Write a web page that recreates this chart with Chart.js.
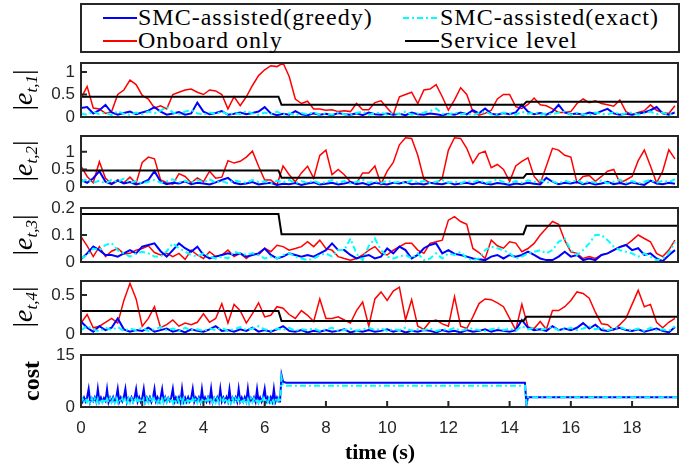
<!DOCTYPE html>
<html lang="en">
<head>
<meta charset="UTF-8">
<title>Tracking error and cost</title>
<style>
  body { margin: 0; background: #fff; }
  #wrap { position: relative; width: 696px; height: 470px; overflow: hidden; font-family: 'Liberation Serif', 'Times New Roman', serif; color: #000; }
  canvas { position: absolute; left: 0; }
  .legend-box { position: absolute; left: 80px; top: 3px; width: 600px; height: 50px; box-sizing: border-box; border: 2px solid #262626; }
  .leg-text { position: absolute; font-size: 24px; line-height: 24px; letter-spacing: 1px; white-space: nowrap; }
  .leg-line { position: absolute; }
  .ylab { position: absolute; transform: translate(-50%, -50%) rotate(-90deg); white-space: nowrap; font-size: 28px; line-height: 28px; }
  .ylab i { font-style: italic; }
  .ylab sub { font-size: 17px; font-style: italic; vertical-align: -5px; }
  .cost { font-weight: bold; font-size: 24px; }
  .xlab { position: absolute; left: 380px; top: 452px; transform: translate(-50%, -50%); font-weight: bold; font-size: 22px; white-space: nowrap; }
</style>
</head>
<body>
<div id="wrap">
  <div class="legend-box"></div>
  <svg class="leg-line" style="left:103px;top:16px" width="34" height="4"><line x1="0" y1="2" x2="34" y2="2" stroke="#0000ff" stroke-width="2"/></svg>
  <div class="leg-text" style="left:138px;top:5px">SMC-assisted(greedy)</div>
  <svg class="leg-line" style="left:403px;top:16px" width="34" height="4"><line x1="0" y1="2" x2="34" y2="2" stroke="#00ffff" stroke-width="2" stroke-dasharray="6,3,2,3"/></svg>
  <div class="leg-text" style="left:440px;top:5px">SMC-assisted(exact)</div>
  <svg class="leg-line" style="left:103px;top:39px" width="34" height="4"><line x1="0" y1="2" x2="34" y2="2" stroke="#ff0000" stroke-width="2"/></svg>
  <div class="leg-text" style="left:138px;top:28px">Onboard only</div>
  <svg class="leg-line" style="left:405px;top:39px" width="34" height="4"><line x1="0" y1="2" x2="34" y2="2" stroke="#000000" stroke-width="2"/></svg>
  <div class="leg-text" style="left:440px;top:28px">Service level</div>

  <canvas id="p1"></canvas>
  <canvas id="p2"></canvas>
  <canvas id="p3"></canvas>
  <canvas id="p4"></canvas>
  <canvas id="p5"></canvas>

  <div class="ylab" style="left:27px;top:90px">|<i>e</i><sub>t,1</sub>|</div>
  <div class="ylab" style="left:27px;top:161px">|<i>e</i><sub>t,2</sub>|</div>
  <div class="ylab" style="left:27px;top:235px">|<i>e</i><sub>t,3</sub>|</div>
  <div class="ylab" style="left:27px;top:307px">|<i>e</i><sub>t,4</sub>|</div>
  <div class="ylab cost" style="left:31px;top:381px">cost</div>
  <div class="xlab">time (s)</div>
</div>
<script src="https://cdn.jsdelivr.net/npm/chart.js"></script>
<script>
// sample grid of the error traces (0.2 s)
const sampleTimes = Array.from({ length: 98 }, (_, i) => +(i * 0.2).toFixed(1));
const xTicks = [0, 2, 4, 6, 8, 10, 12, 14, 16, 18];

// service level steps
const serviceTimes = [0, 6.45, 6.55, 14.45, 14.55, 19.5];
const service1 = [0.45, 0.45, 0.27, 0.27, 0.34, 0.34];
const service2 = [0.47, 0.47, 0.26, 0.26, 0.37, 0.37];
const service3 = [0.178, 0.178, 0.103, 0.103, 0.134, 0.134];
const service4 = [0.295, 0.295, 0.167, 0.167, 0.222, 0.222];

// |e_t,1|
const onboard1 = [
  0.42, 0.68, 0.2, 0.18, 0.08, 0.12, 0.5, 0.6, 0.82, 0.72,
  0.48, 0.4, 0.2, 0.25, 0.18, 0.5, 0.55, 0.6, 0.62, 0.55,
  0.5, 0.6, 0.58, 0.5, 0.18, 0.45, 0.25, 0.45, 0.7, 0.92,
  1.05, 1.14, 1.12, 1.2, 0.9, 0.4, 0.3, 0.35, 0.18, 0.18,
  0.15, 0.16, 0.12, 0.14, 0.12, 0.3, 0.16, 0.16, 0.32, 0.36,
  0.2, 0.05, 0.45, 0.5, 0.55, 0.3, 0.6, 0.62, 0.72, 0.45,
  0.15, 0.38, 0.65, 0.5, 0.12, 0.04, 0.08, 0.15, 0.4, 0.5,
  0.5, 0.23, 0.19, 0.28, 0.42, 0.27, 0.25, 0.18, 0.1, 0.1,
  0.12, 0.3, 0.4, 0.32, 0.36, 0.3, 0.27, 0.24, 0.38, 0.12,
  0.05, 0.1, 0.14, 0.27, 0.15, 0.1, 0.08, 0.25
];
const greedy1 = [
  0.2, 0.22, 0.08, 0.15, 0.27, 0.1, 0.05, 0.09, 0.12, 0.06,
  0.1, 0.14, 0.22, 0.12, 0.05, 0.08, 0.11, 0.05, 0.08, 0.32,
  0.12, 0.06, 0.09, 0.13, 0.05, 0.07, 0.1, 0.06, 0.09, 0.12,
  0.22, 0.08, 0.04, 0.07, 0.05, 0.13, 0.06, 0.04, 0.08, 0.05,
  0.07, 0.04, 0.09, 0.06, 0.05, 0.08, 0.04, 0.1, 0.06, 0.05,
  0.08, 0.05, 0.07, 0.04, 0.1, 0.06, 0.05, 0.08, 0.06, 0.04,
  0.07, 0.05, 0.1, 0.06, 0.15, 0.08, 0.19, 0.07, 0.05, 0.09,
  0.06, 0.1, 0.27, 0.12, 0.06, 0.09, 0.05, 0.12, 0.27, 0.1,
  0.06, 0.08, 0.05, 0.1, 0.07, 0.13, 0.18, 0.08, 0.05, 0.07,
  0.05, 0.08, 0.1, 0.15, 0.22, 0.08, 0.05, 0.1
];
const exact1 = [
  0.08, 0.05, 0.12, 0.06, 0.1, 0.04, 0.13, 0.07, 0.05, 0.1,
  0.06, 0.12, 0.08, 0.14, 0.22, 0.1, 0.06, 0.12, 0.16, 0.08,
  0.05, 0.1, 0.07, 0.12, 0.05, 0.09, 0.06, 0.13, 0.08, 0.05,
  0.1, 0.06, 0.12, 0.05, 0.08, 0.04, 0.09, 0.06, 0.1, 0.05,
  0.08, 0.05, 0.1, 0.06, 0.04, 0.09, 0.12, 0.05, 0.08, 0.1,
  0.05, 0.09, 0.06, 0.12, 0.05, 0.08, 0.1, 0.13, 0.19, 0.07,
  0.05, 0.1, 0.06, 0.08, 0.04, 0.09, 0.12, 0.06, 0.05, 0.1,
  0.08, 0.05, 0.12, 0.07, 0.1, 0.05, 0.08, 0.06, 0.1, 0.12,
  0.05, 0.09, 0.06, 0.04, 0.1, 0.07, 0.05, 0.11, 0.06, 0.08,
  0.1, 0.05, 0.08, 0.12, 0.06, 0.1, 0.05, 0.09
];

// |e_t,2|
const onboard2 = [
  0.59, 0.3, 0.12, 0.72, 0.25, 0.1, 0.2, 0.12, 0.28, 0.1,
  0.7, 0.85, 0.8, 0.2, 0.12, 0.08, 0.38, 0.3, 0.12, 0.26,
  0.15, 0.45, 0.25, 0.28, 0.75, 0.68, 0.73, 0.85, 1.02, 0.59,
  0.2, 0.2, 0.06, 0.6, 0.35, 0.15, 0.4, 0.59, 0.25, 0.9,
  1.05, 0.35, 0.5, 0.35, 0.15, 0.11, 0.4, 0.4, 0.6, 0.08,
  0.45, 0.7, 1.2, 1.4, 1.38, 0.9, 0.22, 0.12, 0.1, 0.25,
  1.05, 1.4, 1.38, 1.1, 0.68, 0.95, 1.02, 0.55, 0.64, 0.5,
  0.16, 0.6, 0.73, 0.83, 0.3, 0.1, 0.6, 1.1, 1.05, 0.9,
  0.85, 0.12, 0.3, 0.33, 0.16, 0.3, 0.45, 0.5, 0.12, 0.2,
  0.3, 0.75, 1.05, 0.6, 0.12, 0.45, 1.06, 0.8
];
const greedy2 = [
  0.2, 0.12, 0.25, 0.45, 0.15, 0.08, 0.18, 0.1, 0.14, 0.07,
  0.12, 0.2, 0.45, 0.15, 0.08, 0.12, 0.1, 0.16, 0.08, 0.12,
  0.1, 0.07, 0.13, 0.2, 0.26, 0.12, 0.08, 0.1, 0.14, 0.07,
  0.1, 0.12, 0.06, 0.09, 0.08, 0.11, 0.06, 0.1, 0.13, 0.07,
  0.09, 0.12, 0.07, 0.1, 0.14, 0.08, 0.11, 0.06, 0.12, 0.09,
  0.07, 0.12, 0.1, 0.14, 0.08, 0.1, 0.07, 0.12, 0.09, 0.08,
  0.13, 0.07, 0.1, 0.12, 0.08, 0.14, 0.1, 0.07, 0.11, 0.09,
  0.06, 0.1, 0.08, 0.12, 0.09, 0.07, 0.26, 0.15, 0.08, 0.12,
  0.1, 0.14, 0.08, 0.12, 0.07, 0.1, 0.15, 0.08, 0.11, 0.07,
  0.13, 0.09, 0.06, 0.18, 0.1, 0.08, 0.12, 0.09
];
const exact2 = [
  0.15, 0.22, 0.12, 0.18, 0.1, 0.2, 0.14, 0.24, 0.12, 0.17,
  0.1, 0.15, 0.2, 0.12, 0.16, 0.22, 0.13, 0.18, 0.11, 0.2,
  0.14, 0.22, 0.12, 0.17, 0.1, 0.19, 0.15, 0.12, 0.2, 0.14,
  0.16, 0.1, 0.18, 0.13, 0.2, 0.11, 0.16, 0.12, 0.18, 0.1,
  0.14, 0.2, 0.12, 0.17, 0.1, 0.15, 0.21, 0.12, 0.16, 0.11,
  0.18, 0.12, 0.15, 0.1, 0.19, 0.13, 0.17, 0.11, 0.15, 0.2,
  0.12, 0.16, 0.1, 0.18, 0.13, 0.2, 0.11, 0.15, 0.22, 0.14,
  0.1, 0.17, 0.12, 0.19, 0.14, 0.2, 0.12, 0.16, 0.1, 0.18,
  0.13, 0.2, 0.11, 0.16, 0.12, 0.19, 0.1, 0.15, 0.21, 0.12,
  0.17, 0.1, 0.15, 0.2, 0.12, 0.18, 0.14, 0.22
];

// |e_t,3|
const onboard3 = [
  0.094, 0.06, 0.02, 0.057, 0.02, 0.04, 0.05, 0.03, 0.032, 0.044,
  0.05, 0.06, 0.035, 0.026, 0.032, 0.02, 0.032, 0.01, 0.044, 0.026,
  0.013, 0.038, 0.02, 0.026, 0.044, 0.02, 0.032, 0.013, 0.032, 0.026,
  0.051, 0.038, 0.062, 0.057, 0.044, 0.05, 0.057, 0.075, 0.057, 0.081,
  0.05, 0.044, 0.02, 0.013, 0.007, 0.013, 0.026, 0.044, 0.057, 0.032,
  0.026, 0.044, 0.057, 0.069, 0.069, 0.044, 0.032, 0.069, 0.075, 0.081,
  0.155, 0.168, 0.15, 0.14, 0.05, 0.035, 0.013, 0.081, 0.06, 0.051,
  0.075, 0.07, 0.038, 0.05, 0.069, 0.1, 0.125, 0.15, 0.14, 0.08,
  0.038, 0.032, 0.013, 0.02, 0.013, 0.026, 0.032, 0.044, 0.057, 0.063,
  0.08, 0.1, 0.087, 0.075, 0.032, 0.02, 0.044, 0.081
];
const greedy3 = [
  0.01, 0.032, 0.057, 0.044, 0.026, 0.026, 0.02, 0.032, 0.044, 0.032,
  0.057, 0.063, 0.069, 0.04, 0.02, 0.044, 0.069, 0.051, 0.038, 0.057,
  0.026, 0.013, 0.02, 0.026, 0.032, 0.026, 0.032, 0.02, 0.026, 0.032,
  0.05, 0.026, 0.013, 0.02, 0.032, 0.026, 0.02, 0.026, 0.02, 0.032,
  0.044, 0.069, 0.044, 0.044, 0.026, 0.013, 0.02, 0.026, 0.013, 0.02,
  0.05, 0.032, 0.057, 0.044, 0.013, 0.026, 0.051, 0.063, 0.069, 0.032,
  0.044, 0.03, 0.026, 0.02, 0.013, 0.01, 0.007, 0.02, 0.026, 0.013,
  0.026, 0.02, 0.026, 0.038, 0.026, 0.013, 0.007, 0.007, 0.02, 0.038,
  0.02, 0.026, 0.007, 0.013, 0.007, 0.026, 0.032, 0.044, 0.055, 0.063,
  0.044, 0.051, 0.026, 0.032, 0.013, 0.003, 0.025, 0.044
];
const exact3 = [
  0.013, 0.026, 0.05, 0.044, 0.063, 0.07, 0.044, 0.032, 0.02, 0.032,
  0.038, 0.032, 0.02, 0.02, 0.04, 0.069, 0.051, 0.038, 0.026, 0.02,
  0.032, 0.02, 0.013, 0.02, 0.013, 0.038, 0.032, 0.026, 0.032, 0.026,
  0.013, 0.02, 0.013, 0.026, 0.032, 0.02, 0.013, 0.007, 0.013, 0.026,
  0.032, 0.02, 0.044, 0.044, 0.087, 0.03, 0.007, 0.06, 0.087, 0.044,
  0.02, 0.013, 0.02, 0.026, 0.013, 0.032, 0.007, 0.013, 0.032, 0.013,
  0.032, 0.026, 0.038, 0.013, 0.007, 0.013, 0.044, 0.057, 0.051, 0.044,
  0.032, 0.013, 0.02, 0.032, 0.038, 0.044, 0.032, 0.044, 0.075, 0.087,
  0.044, 0.026, 0.044, 0.069, 0.1, 0.1, 0.081, 0.057, 0.044, 0.038,
  0.032, 0.02, 0.032, 0.02, 0.007, 0.013, 0.032, 0.075
];

// |e_t,4|
const onboard4 = [
  0.14, 0.25, 0.08, 0.1, 0.15, 0.2, 0.14, 0.43, 0.65, 0.45,
  0.1, 0.2, 0.35, 0.08, 0.12, 0.18, 0.1, 0.14, 0.12, 0.15,
  0.26, 0.15, 0.2, 0.39, 0.14, 0.38, 0.3, 0.14, 0.26, 0.4,
  0.22, 0.24, 0.35, 0.33, 0.25, 0.2, 0.3, 0.24, 0.16, 0.45,
  0.2, 0.2, 0.22, 0.18, 0.14, 0.3, 0.41, 0.1, 0.45, 0.54,
  0.43, 0.55, 0.6, 0.18, 0.44, 0.1, 0.06, 0.16, 0.18, 0.13,
  0.1, 0.48, 0.1, 0.07, 0.22, 0.39, 0.45, 0.44, 0.4, 0.35,
  0.2, 0.05, 0.38, 0.09, 0.07, 0.16, 0.06, 0.3, 0.3, 0.35,
  0.43, 0.54, 0.52, 0.46, 0.28, 0.13, 0.12, 0.05, 0.12, 0.2,
  0.38, 0.56, 0.35, 0.38, 0.15, 0.08, 0.15, 0.2
];
const greedy4 = [
  0.16, 0.08, 0.03, 0.1, 0.05, 0.08, 0.2, 0.06, 0.03, 0.05,
  0.04, 0.08, 0.03, 0.05, 0.07, 0.03, 0.05, 0.02, 0.06, 0.04,
  0.03, 0.06, 0.1, 0.04, 0.05, 0.03, 0.06, 0.04, 0.08, 0.03,
  0.05, 0.03, 0.06, 0.1, 0.04, 0.03, 0.05, 0.02, 0.04, 0.03,
  0.05, 0.03, 0.04, 0.06, 0.02, 0.04, 0.03, 0.05, 0.03, 0.04,
  0.06, 0.03, 0.05, 0.02, 0.04, 0.03, 0.05, 0.04, 0.02, 0.05,
  0.03, 0.04, 0.02, 0.05, 0.03, 0.04, 0.06, 0.03, 0.05, 0.04,
  0.03, 0.05, 0.18, 0.08, 0.05, 0.06, 0.04, 0.1, 0.05, 0.07,
  0.05, 0.08, 0.14, 0.07, 0.12, 0.05, 0.04, 0.06, 0.08, 0.05,
  0.04, 0.06, 0.03, 0.05, 0.07, 0.04, 0.02, 0.09
];
const exact4 = [
  0.05, 0.1, 0.06, 0.03, 0.08, 0.05, 0.09, 0.04, 0.07, 0.05,
  0.08, 0.04, 0.06, 0.09, 0.05, 0.07, 0.04, 0.08, 0.05, 0.06,
  0.04, 0.07, 0.05, 0.08, 0.04, 0.06, 0.09, 0.05, 0.07, 0.1,
  0.06, 0.04, 0.07, 0.05, 0.08, 0.04, 0.06, 0.05, 0.07, 0.04,
  0.06, 0.08, 0.04, 0.05, 0.07, 0.04, 0.06, 0.08, 0.05, 0.07,
  0.04, 0.06, 0.05, 0.08, 0.04, 0.06, 0.05, 0.07, 0.04, 0.06,
  0.05, 0.08, 0.04, 0.06, 0.07, 0.05, 0.04, 0.06, 0.08, 0.05,
  0.07, 0.04, 0.1, 0.06, 0.08, 0.05, 0.07, 0.09, 0.05, 0.06,
  0.08, 0.05, 0.07, 0.1, 0.06, 0.08, 0.05, 0.07, 0.09, 0.06,
  0.05, 0.07, 0.04, 0.08, 0.05, 0.06, 0.04, 0.1
];

// cost: 0.05 s samples up to 6.45 s, then breakpoints
const costEarlyStep = 0.05;
const costGreedyEarly = [
  2.6, 1.5, 2.7, 1.6, 2.8, 5.2, 1.4, 2.6, 1.7, 2.8,
  1.5, 5.2, 1.6, 2.7, 1.5, 2.6, 1.8, 5.1, 1.4, 2.7,
  1.6, 2.8, 1.5, 2.6, 5.2, 1.5, 2.7, 1.6, 2.8, 5.2,
  1.4, 2.6, 1.7, 2.8, 1.5, 2.7, 5.1, 1.6, 2.8, 1.5,
  2.6, 5.2, 1.5, 2.7, 1.6, 2.8, 1.4, 2.6, 5.2, 1.7,
  2.8, 1.5, 2.7, 5.1, 1.6, 2.8, 1.5, 2.6, 1.7, 2.8,
  5.2, 1.5, 2.7, 1.6, 2.8, 1.4, 5.2, 1.6, 2.7, 1.5,
  2.8, 1.6, 2.6, 5.2, 1.5, 2.7, 1.7, 2.8, 1.5, 5.1,
  1.6, 2.7, 1.5, 2.8, 1.6, 5.2, 1.4, 2.6, 1.7, 2.8,
  1.5, 5.2, 1.6, 2.7, 1.5, 2.8, 1.6, 5.1, 1.5, 2.7,
  1.7, 2.8, 1.5, 5.2, 1.6, 2.7, 1.5, 2.8, 1.6, 5.2,
  1.4, 2.6, 1.7, 2.8, 1.5, 5.1, 1.6, 2.7, 1.5, 2.8,
  5.2, 1.6, 2.7, 1.5, 2.8, 1.6, 5.2, 1.5, 2.7, 1.6
];
const costExactEarly = [
  1.3, 2.4, 1.2, 2.5, 1.4, 2.3, 1.2, 2.5, 1.3, 2.4,
  1.2, 2.5, 1.4, 2.3, 1.3, 2.5, 1.2, 2.4, 1.4, 2.5,
  1.3, 2.4, 1.2, 2.5, 1.3, 2.3, 1.4, 2.5, 1.2, 2.4,
  1.3, 2.5, 1.2, 2.4, 1.4, 2.5, 1.3, 2.3, 1.2, 2.5,
  1.4, 2.4, 1.3, 2.5, 1.2, 2.4, 1.3, 2.5, 1.4, 2.3,
  1.2, 2.5, 1.3, 2.4, 1.2, 2.5, 1.4, 2.4, 1.3, 2.5,
  1.2, 2.3, 1.4, 2.5, 1.3, 2.4, 1.2, 2.5, 1.3, 2.4,
  1.4, 2.5, 1.2, 2.4, 1.3, 2.5, 1.2, 2.3, 1.4, 2.5,
  1.3, 2.4, 1.2, 2.5, 1.4, 2.4, 1.3, 2.5, 1.2, 2.4,
  1.3, 2.5, 1.4, 2.3, 1.2, 2.5, 1.3, 2.4, 1.2, 2.5,
  1.4, 2.4, 1.3, 2.5, 1.2, 2.3, 1.4, 2.5, 1.3, 2.4,
  1.2, 2.5, 1.3, 2.4, 1.4, 2.5, 1.2, 2.4, 1.3, 2.5,
  1.2, 2.4, 1.4, 2.5, 1.3, 2.3, 1.2, 2.5, 1.3, 2.4
];
const costLateTimes = [6.5, 6.55, 6.6, 6.7, 14.45, 14.5, 14.55, 14.6, 19.5];
const costGreedyLate = [1.6, 9.2, 7.3, 7.0, 7.0, 7.0, 0.7, 2.8, 2.8];
const costExactLate = [1.3, 8.4, 6.4, 6.1, 6.1, 6.1, 1.2, 2.8, 2.8];

const TICK_COLOR = '#262626';
const tickFont = { family: "'Liberation Sans', Arial, sans-serif", size: 17 };
const PAD = 20;

function pairs(times, vals) { return vals.map((v, i) => ({ x: times[i], y: v })); }

const costEarlyTimes = costGreedyEarly.map((_, i) => +(i * costEarlyStep).toFixed(2));

// frame + inward ticks like the MATLAB axes box
const boxFrame = {
  id: 'boxFrame',
  afterDatasetsDraw(chart, args, opts) {
    const { ctx, chartArea: a, scales } = chart;
    ctx.save();
    ctx.strokeStyle = TICK_COLOR;
    ctx.lineWidth = 2;
    ctx.strokeRect(a.left, a.top, a.right - a.left, a.bottom - a.top);
    ctx.beginPath();
    scales.y.ticks.forEach(t => {
      const y = scales.y.getPixelForValue(t.value);
      ctx.moveTo(a.left, y); ctx.lineTo(a.left + 6, y);
    });
    if (opts.xTicks) {
      scales.x.ticks.forEach(t => {
        const x = scales.x.getPixelForValue(t.value);
        ctx.moveTo(x, a.bottom); ctx.lineTo(x, a.bottom - 6);
      });
    }
    ctx.stroke();
    ctx.restore();
  }
};

const panels = [
  { id: 'p1', top: 63, height: 54, max: 1.2, yTicks: [0, 0.5, 1], onboard: onboard1, greedy: greedy1, exact: exact1, service: service1 },
  { id: 'p2', top: 136, height: 51, max: 1.45, yTicks: [0, 0.5, 1], onboard: onboard2, greedy: greedy2, exact: exact2, service: service2 },
  { id: 'p3', top: 208, height: 54, max: 0.2, yTicks: [0, 0.1, 0.2], onboard: onboard3, greedy: greedy3, exact: exact3, service: service3 },
  { id: 'p4', top: 281, height: 53, max: 0.68, yTicks: [0, 0.5], onboard: onboard4, greedy: greedy4, exact: exact4, service: service4 }
];

function axisOptions(max, yTicks, showX) {
  return {
    x: {
      type: 'linear', min: 0, max: 19.5, display: showX,
      afterBuildTicks: s => { s.ticks = xTicks.map(v => ({ value: v })); },
      afterFit: s => { s.height = showX ? 40 : 0; },
      grid: { display: false, drawTicks: false }, border: { display: false },
      ticks: { font: tickFont, color: TICK_COLOR, padding: 11, maxRotation: 0, autoSkip: false }
    },
    y: {
      min: 0, max: max,
      afterBuildTicks: s => { s.ticks = yTicks.map(v => ({ value: v })); },
      afterFit: s => { s.width = 81; },
      grid: { display: false, drawTicks: false }, border: { display: false },
      ticks: { font: tickFont, color: TICK_COLOR, padding: 6, callback: v => String(v) }
    }
  };
}

function baseOptions(showX, max, yTicks) {
  return {
    responsive: false,
    animation: false,
    events: [],
    layout: { padding: { top: PAD, bottom: showX ? 0 : PAD, left: 0, right: 18 } },
    elements: { point: { radius: 0 }, line: { tension: 0 } },
    plugins: { legend: { display: false }, tooltip: { enabled: false }, boxFrame: { xTicks: showX } },
    scales: axisOptions(max, yTicks, showX)
  };
}

panels.forEach(p => {
  const cv = document.getElementById(p.id);
  cv.width = 696;
  cv.height = p.height + 2 * PAD;
  cv.style.top = (p.top - PAD) + 'px';
  new Chart(cv, {
    type: 'line',
    data: {
      datasets: [
        { label: 'Service level', data: pairs(serviceTimes, p.service), borderColor: '#000000', borderWidth: 2 },
        { label: 'SMC-assisted(exact)', data: pairs(sampleTimes, p.exact), borderColor: '#00ffff', borderWidth: 2, borderDash: [6, 3, 2, 3] },
        { label: 'SMC-assisted(greedy)', data: pairs(sampleTimes, p.greedy), borderColor: '#0000ff', borderWidth: 2 },
        { label: 'Onboard only', data: pairs(sampleTimes, p.onboard), borderColor: '#ff0000', borderWidth: 1.5 }
      ]
    },
    options: baseOptions(false, p.max, p.yTicks),
    plugins: [boxFrame]
  });
});

// cost panel
const costCanvas = document.getElementById('p5');
costCanvas.width = 696;
costCanvas.height = PAD + 52 + 40;
costCanvas.style.top = (355 - PAD) + 'px';
new Chart(costCanvas, {
  type: 'line',
  data: {
    datasets: [
      { label: 'SMC-assisted(exact)', data: pairs(costEarlyTimes.concat(costLateTimes), costExactEarly.concat(costExactLate)), borderColor: '#00ffff', borderWidth: 2, borderDash: [6, 3, 2, 3] },
      { label: 'SMC-assisted(greedy)', data: pairs(costEarlyTimes.concat(costLateTimes), costGreedyEarly.concat(costGreedyLate)), borderColor: '#0000ff', borderWidth: 2 }
    ]
  },
  options: baseOptions(true, 15, [0, 15]),
  plugins: [boxFrame]
});
</script>
</body>
</html>
